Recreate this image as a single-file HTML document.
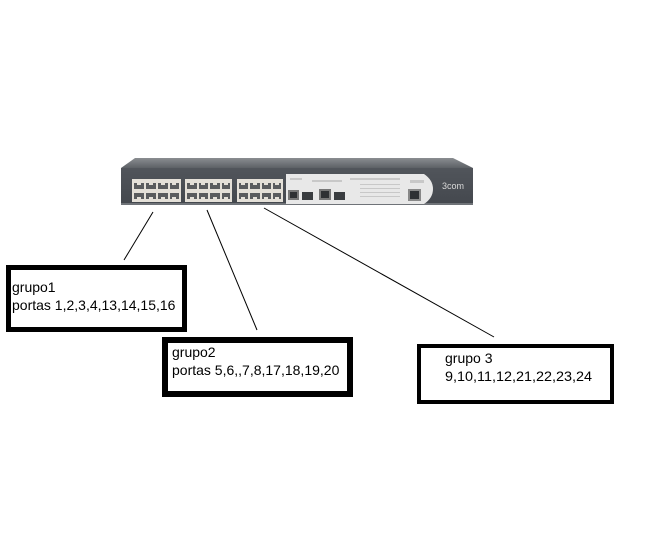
<!DOCTYPE html>
<html>
<head>
<meta charset="utf-8">
<style>
html,body{margin:0;padding:0;background:#fff;}
svg{display:block;}
text{font-family:"Liberation Sans",sans-serif;}
</style>
</head>
<body>
<svg width="659" height="542" viewBox="0 0 659 542" xmlns="http://www.w3.org/2000/svg">
<defs>
<linearGradient id="topg" x1="0" y1="0" x2="0" y2="1">
<stop offset="0" stop-color="#8a8d91"/>
<stop offset="1" stop-color="#5d6166"/>
</linearGradient>
<linearGradient id="faceg" x1="0" y1="0" x2="0" y2="1">
<stop offset="0" stop-color="#51555b"/>
<stop offset="1" stop-color="#44484e"/>
</linearGradient>
</defs>
<rect width="659" height="542" fill="#fff"/>

<!-- switch top -->
<polygon points="135,158 453,158 473,168 121,168" fill="url(#topg)"/>
<!-- switch face -->
<rect x="121" y="168" width="352" height="36" fill="url(#faceg)"/>
<rect x="121" y="203" width="352" height="2" fill="#6f7378"/>

<!-- port blocks -->
<g>
<rect x="132" y="179" width="49" height="23" fill="#e4e0d8"/>
<rect x="185" y="179" width="47" height="23" fill="#e4e0d8"/>
<rect x="237" y="179" width="46" height="23" fill="#e4e0d8"/>
</g>
<g fill="#5a5c5e">
<!-- block1 -->
<rect x="134" y="183" width="10" height="6"/><rect x="146" y="183" width="10" height="6"/><rect x="158" y="183" width="10" height="6"/><rect x="170" y="183" width="9" height="6"/>
<rect x="134" y="193" width="10" height="6"/><rect x="146" y="193" width="10" height="6"/><rect x="158" y="193" width="10" height="6"/><rect x="170" y="193" width="9" height="6"/>
<!-- block2 -->
<rect x="187" y="183" width="10" height="6"/><rect x="199" y="183" width="9" height="6"/><rect x="210" y="183" width="10" height="6"/><rect x="222" y="183" width="8" height="6"/>
<rect x="187" y="193" width="10" height="6"/><rect x="199" y="193" width="9" height="6"/><rect x="210" y="193" width="10" height="6"/><rect x="222" y="193" width="8" height="6"/>
<!-- block3 -->
<rect x="239" y="183" width="9" height="6"/><rect x="250" y="183" width="10" height="6"/><rect x="262" y="183" width="9" height="6"/><rect x="273" y="183" width="8" height="6"/>
<rect x="239" y="193" width="9" height="6"/><rect x="250" y="193" width="10" height="6"/><rect x="262" y="193" width="9" height="6"/><rect x="273" y="193" width="8" height="6"/>
</g>
<g fill="#e4e0d8">
<rect x="137" y="183" width="4" height="2"/><rect x="149" y="183" width="4" height="2"/><rect x="161" y="183" width="4" height="2"/><rect x="172" y="183" width="4" height="2"/>
<rect x="137" y="197" width="4" height="2"/><rect x="149" y="197" width="4" height="2"/><rect x="161" y="197" width="4" height="2"/><rect x="172" y="197" width="4" height="2"/>
<rect x="190" y="183" width="4" height="2"/><rect x="201" y="183" width="4" height="2"/><rect x="213" y="183" width="4" height="2"/><rect x="224" y="183" width="4" height="2"/>
<rect x="190" y="197" width="4" height="2"/><rect x="201" y="197" width="4" height="2"/><rect x="213" y="197" width="4" height="2"/><rect x="224" y="197" width="4" height="2"/>
<rect x="241" y="183" width="4" height="2"/><rect x="253" y="183" width="4" height="2"/><rect x="264" y="183" width="4" height="2"/><rect x="275" y="183" width="4" height="2"/>
<rect x="241" y="197" width="4" height="2"/><rect x="253" y="197" width="4" height="2"/><rect x="264" y="197" width="4" height="2"/><rect x="275" y="197" width="4" height="2"/>
</g>

<!-- light panel -->
<path d="M286,174 L424,174 Q433,180 433,189 Q433,198 424,204 L286,204 Z" fill="#e8e8e8"/>
<g fill="#c8c8c8">
<rect x="290" y="178" width="12" height="2"/>
<rect x="312" y="180" width="30" height="2"/>
<rect x="350" y="178" width="50" height="2"/>
<rect x="360" y="184" width="40" height="1"/>
<rect x="360" y="188" width="40" height="1"/>
<rect x="360" y="192" width="40" height="1"/>
<rect x="360" y="196" width="40" height="1"/>
<rect x="410" y="180" width="14" height="3"/>
</g>
<!-- small ports -->
<rect x="288" y="190" width="11" height="10" fill="#777"/>
<rect x="290" y="192" width="7" height="6" fill="#2e3033"/>
<rect x="302" y="192" width="11" height="8" fill="#3a3d40"/>
<rect x="319" y="189" width="12" height="11" fill="#777"/>
<rect x="321" y="191" width="8" height="7" fill="#2e3033"/>
<rect x="334" y="192" width="11" height="8" fill="#3a3d40"/>
<rect x="408" y="189" width="13" height="12" fill="#888"/>
<rect x="410" y="191" width="9" height="8" fill="#2e3033"/>

<text x="442" y="189" font-size="9" fill="#d8d8d8">3com</text>

<!-- connectors -->
<g stroke="#000" stroke-width="1" fill="none">
<line x1="153" y1="212" x2="124" y2="260"/>
<line x1="207" y1="210" x2="257" y2="330"/>
<line x1="264" y1="208" x2="494" y2="337"/>
</g>

<!-- boxes -->
<rect x="8.5" y="267.5" width="176" height="62" fill="#fff" stroke="#000" stroke-width="5"/>
<rect x="165" y="340" width="185" height="54" fill="#fff" stroke="#000" stroke-width="6"/>
<rect x="419" y="346" width="193" height="56" fill="#fff" stroke="#000" stroke-width="4"/>

<g fill="#000" font-size="14">
<text x="12" y="292">grupo1</text>
<text x="12" y="310">portas 1,2,3,4,13,14,15,16</text>
<text x="172" y="357">grupo2</text>
<text x="172" y="375">portas 5,6,,7,8,17,18,19,20</text>
<text x="445" y="363">grupo 3</text>
<text x="445" y="381" textLength="147" lengthAdjust="spacingAndGlyphs">9,10,11,12,21,22,23,24</text>
</g>
</svg>
</body>
</html>
